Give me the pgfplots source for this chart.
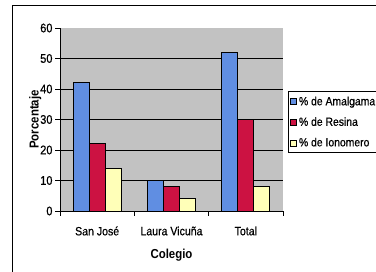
\documentclass[border=0pt]{standalone}
\usepackage{pgfplots}
\pgfplotsset{compat=1.18}
\usepackage{fontspec}
\setmainfont{Liberation Sans}[FakeStretch=0.88]
\newfontfamily\heavy{Liberation Sans}[FakeStretch=0.88, FakeBold=0.6]
\definecolor{amal}{RGB}{96,142,226}
\definecolor{resi}{RGB}{204,18,66}
\definecolor{iono}{RGB}{255,255,184}
\definecolor{plotbg}{RGB}{194,194,194}
\begin{document}
\begin{tikzpicture}[x=1pt,y=1pt]
\useasboundingbox (0,0) rectangle (376,272);
\clip (0,0) rectangle (376,272);
\fill[white] (0,0) rectangle (376,272);
\draw[line width=1pt] (12.5,-10) rectangle (400,266);
\begin{axis}[
  at={(60pt,61pt)}, anchor=south west,
  scale only axis, width=223pt, height=183pt,
  xmin=-0.5, xmax=2.5, ymin=0, ymax=60,
  ybar=0pt, bar width=16pt,
  axis background/.style={fill=plotbg},
  axis x line*=bottom, axis y line*=left,
  axis line style={black, line width=0.8pt},
  xtick={0,1,2},
  xticklabels={San José, Laura Vicuña, Total},
  minor xtick={-0.5,0.5,1.5,2.5},
  x tick style={draw=none},
  minor x tick style={draw=black, line width=0.8pt},
  minor tick length=5pt,
  ytick={0,10,...,60},
  y tick style={black, line width=0.8pt},
  major tick length=5pt,
  tick align=outside,
  extra y ticks={10,20,30,40,50},
  extra y tick labels={},
  extra y tick style={grid=major, major tick length=0pt},
  grid style={black, line width=0.8pt},
  /pgf/number format/assume math mode=true,
  tick label style={font=\heavy\fontsize{12}{14}\selectfont},
  yticklabel style={xshift=1pt, font=\heavy\fontsize{12.5}{14}\selectfont},
  xticklabel style={yshift=-7pt},
  ylabel={\textbf{Porcentaje}},
  xlabel={\textbf{Colegio}},
  label style={font=\fontsize{13}{15}\selectfont},
  ylabel style={yshift=-13pt},
  xlabel style={yshift=-7pt},
  legend style={at={(1,0.654)}, xshift=5pt, anchor=north west, draw=black, line width=0.8pt,
    font=\heavy\fontsize{11.8}{14}\selectfont, inner xsep=2pt, inner ysep=3pt,
    row sep=6.5pt, cells={anchor=west}},
  legend image code/.code={\draw[#1, line width=0.6pt] (1pt,-3pt) rectangle (7pt,3pt);},
]
\addplot[fill=amal, draw=black, line width=0.8pt] coordinates {(0,42) (1,10) (2,52)};
\addplot[fill=resi, draw=black, line width=0.8pt] coordinates {(0,22) (1,8) (2,30)};
\addplot[fill=iono, draw=black, line width=0.8pt] coordinates {(0,14) (1,4) (2,8)};
\legend{\% de Amalgama, \% de Resina, \% de Ionomero}
\end{axis}
\end{tikzpicture}
\end{document}
